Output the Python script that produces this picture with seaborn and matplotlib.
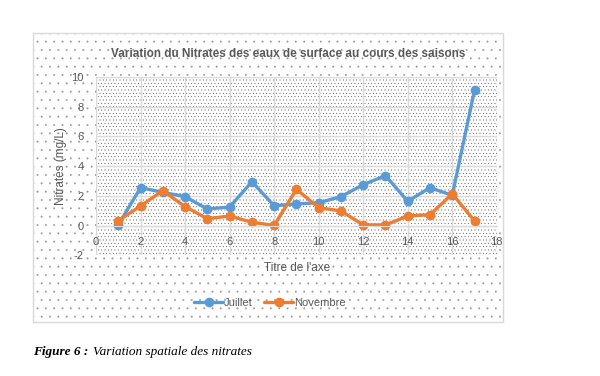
import matplotlib
matplotlib.use('Agg')
import matplotlib.pyplot as plt
import matplotlib.patches as mpatches
import seaborn as sns
import pandas as pd

stations = list(range(1, 18))
juillet = [0.05, 2.55, 2.24, 1.95, 1.12, 1.25, 2.95, 1.34, 1.46, 1.54,
           1.95, 2.75, 3.36, 1.64, 2.55, 2.04, 9.1]
novembre = [0.34, 1.32, 2.35, 1.28, 0.47, 0.65, 0.23, 0.02, 2.44, 1.21,
            0.99, 0.05, 0.05, 0.65, 0.74, 2.13, 0.32]
series = ['Juillet', 'Novembre']
colors = {'Juillet': '#5B9BD5', 'Novembre': '#ED7D31'}

title = 'Variation du Nitrates des eaux de surface au cours des saisons'
ylabel = 'Nitrates (mg/L)'
xlabel = "Titre de l'axe"

df = pd.DataFrame({
    'station': stations * 2,
    'nitrates': juillet + novembre,
    'saison': ['Juillet'] * len(stations) + ['Novembre'] * len(stations),
})

sns.set_style('white')
plt.rcParams['font.family'] = ['Liberation Sans', 'DejaVu Sans']
plt.rcParams['hatch.linewidth'] = 0.2
plt.rcParams['axes.unicode_minus'] = False

txt = '#595959'
grid = '#d9d9d9'

fig = plt.figure(figsize=(6, 3.76), dpi=100)

# chart area (dotted pattern + light border)
fig.patches.append(mpatches.Rectangle((0.055, 0.1436), 0.783, 0.7684, transform=fig.transFigure,
                                      facecolor='white', edgecolor='#9a9a9a', linewidth=0,
                                      hatch='..', zorder=-2))
fig.patches.append(mpatches.Rectangle((0.055, 0.1436), 0.783, 0.7684, transform=fig.transFigure,
                                      facecolor='none', edgecolor=grid, linewidth=1, zorder=-1))

ax = fig.add_axes([0.16, 0.3205, 0.668, 0.4755])
ax.set_zorder(1)
ax.patch.set_facecolor('white')
ax.patch.set_edgecolor('#404040')
ax.patch.set_linewidth(0)
ax.patch.set_hatch('.....')

sns.lineplot(data=df, x='station', y='nitrates', hue='saison', style='saison',
             palette=colors, markers=['o', 'o'], dashes=False, linewidth=2.4,
             markersize=7, markeredgewidth=0, ax=ax, legend=True)

ax.set_xlim(0, 18)
ax.set_ylim(-2, 10)
ax.set_xticks(range(0, 19, 2))
ax.set_yticks(range(-2, 11, 2))
ax.grid(True, color=grid, linewidth=1)
ax.set_axisbelow(True)
for s in ['top', 'right', 'left']:
    ax.spines[s].set_visible(False)
ax.spines['bottom'].set_position(('data', 0))
ax.spines['bottom'].set_color(grid)
ax.tick_params(axis='both', length=0, labelsize=8, labelcolor=txt)
ax.tick_params(axis='y', pad=9)
ax.tick_params(axis='x', pad=8)

ax.set_xlabel('')
ax.set_ylabel('')
fig.text(0.495, 1 - 268 / 376, xlabel, ha='center', va='center', fontsize=8.5, color=txt)
fig.text(0.102, 1 - 166 / 376, ylabel, ha='center', va='center', rotation=90,
         fontsize=8.5, color=txt)
fig.text(0.48, 1 - 54 / 376, title, ha='center', va='center', fontsize=8.5,
         fontweight='bold', color=txt)

handles, labels = ax.get_legend_handles_labels()
ax.get_legend().remove()
fig.legend(handles, labels, loc='center', bbox_to_anchor=(0.45, 1 - 303 / 376), ncol=2,
           frameon=False, fontsize=8, labelcolor=txt, handlelength=2.6,
           handletextpad=0.1, columnspacing=1.0)

fig.text(0.055, 1 - 352 / 376, 'Figure 6 :', ha='left', va='center', fontsize=9.5,
         family='Liberation Serif', fontweight='bold', fontstyle='italic', color='black')
fig.text(0.155, 1 - 352 / 376, 'Variation spatiale des nitrates', ha='left', va='center',
         fontsize=9.5, family='Liberation Serif', fontstyle='italic', color='black')

fig.savefig('out.png', dpi=100)
